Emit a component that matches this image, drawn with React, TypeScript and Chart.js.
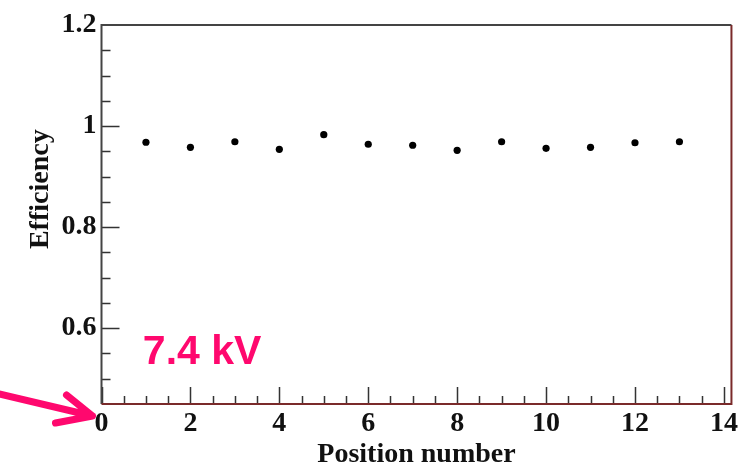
import React, { useEffect, useRef } from "react";
import { Chart, registerables } from "chart.js";

Chart.register(...registerables);

// ---- data ----
const positions = [1, 2, 3, 4, 5, 6, 7, 8, 9, 10, 11, 12, 13];
const efficiency = [0.968, 0.958, 0.969, 0.954, 0.983, 0.964, 0.962, 0.952, 0.969, 0.956, 0.958, 0.967, 0.969];
const xTickValues = [0, 2, 4, 6, 8, 10, 12, 14];
const yTickValues = [0.6, 0.8, 1, 1.2];
const xMinorStep = 0.5;
const yMinorStep = 0.05;
const xTitle = "Position number";
const yTitle = "Efficiency";
const voltageLabel = "7.4 kV";

const SERIF = "'Liberation Serif', 'Times New Roman', serif";
const PINK = "rgb(255, 8, 110)";

const decorations = {
  id: "rootStyleFrame",
  beforeDatasetsDraw(chart: any) {
    const { ctx, chartArea } = chart;
    const xs = chart.scales.x;
    const ys = chart.scales.y;
    const { left, right, top, bottom } = chartArea;
    ctx.save();
    // ticks
    ctx.strokeStyle = "#333";
    ctx.lineWidth = 1.5;
    ctx.beginPath();
    for (let v = 0; v <= 14.0001; v += xMinorStep) {
      const px = Math.round(xs.getPixelForValue(v)) + 0.5;
      const major = Math.abs(v / 2 - Math.round(v / 2)) < 1e-6;
      const len = major ? 17 : 8;
      ctx.moveTo(px, bottom);
      ctx.lineTo(px, bottom - len);
    }
    for (let v = 0.5; v <= 1.1501; v += yMinorStep) {
      const py = Math.round(ys.getPixelForValue(v)) + 0.5;
      const major = Math.abs(v / 0.2 - Math.round(v / 0.2)) < 1e-6;
      const len = major ? 18 : 9;
      ctx.moveTo(left, py);
      ctx.lineTo(left + len, py);
    }
    ctx.stroke();
    // frame: top + left dark, right + bottom reddish
    ctx.lineWidth = 2;
    ctx.strokeStyle = "#444";
    ctx.beginPath();
    ctx.moveTo(left, bottom);
    ctx.lineTo(left, top);
    ctx.lineTo(right, top);
    ctx.stroke();
    ctx.strokeStyle = "#7a2a2a";
    ctx.beginPath();
    ctx.moveTo(right, top);
    ctx.lineTo(right, bottom);
    ctx.lineTo(left, bottom);
    ctx.stroke();
    ctx.restore();
  },
  afterDraw(chart: any) {
    const { ctx, chartArea } = chart;
    const xs = chart.scales.x;
    const ys = chart.scales.y;
    ctx.save();
    // y axis title
    ctx.fillStyle = "#111";
    ctx.font = `bold 28px ${SERIF}`;
    ctx.textAlign = "center";
    ctx.textBaseline = "middle";
    ctx.translate(41, ys.getPixelForValue(0.875));
    ctx.rotate(-Math.PI / 2);
    ctx.fillText(yTitle, 0, 0);
    ctx.restore();

    ctx.save();
    // voltage label
    ctx.fillStyle = PINK;
    ctx.font = "bold 41px 'Liberation Sans', Arial, sans-serif";
    ctx.textAlign = "left";
    ctx.textBaseline = "alphabetic";
    ctx.fillText(voltageLabel, xs.getPixelForValue(0.93), ys.getPixelForValue(0.529));
    // arrow pointing to the "0" tick label
    const tipX = xs.getPixelForValue(0) - 9;
    const tipY = chartArea.bottom + 12;
    ctx.strokeStyle = PINK;
    ctx.lineWidth = 7;
    ctx.lineCap = "round";
    ctx.lineJoin = "round";
    ctx.beginPath();
    ctx.moveTo(-5, tipY - 23);
    ctx.lineTo(tipX, tipY);
    ctx.moveTo(tipX - 26, tipY - 21);
    ctx.lineTo(tipX, tipY);
    ctx.lineTo(tipX - 37, tipY + 7);
    ctx.stroke();
    ctx.restore();
  },
};

export default function App() {
  const canvasRef = useRef<HTMLCanvasElement | null>(null);

  useEffect(() => {
    const canvas = canvasRef.current;
    if (!canvas) return;
    const chart = new Chart(canvas, {
      type: "scatter",
      data: {
        datasets: [
          {
            label: yTitle,
            data: positions.map((x, i) => ({ x, y: efficiency[i] })),
            pointRadius: 3.6,
            pointBackgroundColor: "#000",
            pointBorderWidth: 0,
            showLine: false,
          },
        ],
      },
      options: {
        animation: false,
        responsive: true,
        maintainAspectRatio: false,
        layout: { padding: { top: 25, right: 9, left: 0, bottom: 0 } },
        plugins: {
          legend: { display: false },
          tooltip: { enabled: false },
        },
        scales: {
          x: {
            type: "linear",
            min: 0,
            max: 14.17,
            grid: { display: false, drawTicks: false },
            border: { display: false },
            afterBuildTicks: (scale: any) => {
              scale.ticks = xTickValues.map((value) => ({ value }));
            },
            afterFit: (scale: any) => {
              scale.height = 72;
            },
            ticks: {
              padding: 3,
              color: "#111",
              font: { family: SERIF, size: 28, weight: "bold" },
              maxRotation: 0,
              callback: (v: any) => String(v),
            },
            title: {
              display: true,
              text: xTitle,
              color: "#111",
              font: { family: SERIF, size: 28, weight: "bold" },
              padding: { top: 0, bottom: 4 },
            },
          },
          y: {
            type: "linear",
            min: 0.45,
            max: 1.2,
            grid: { display: false, drawTicks: false },
            border: { display: false },
            afterBuildTicks: (scale: any) => {
              scale.ticks = yTickValues.map((value) => ({ value }));
            },
            afterFit: (scale: any) => {
              scale.width = 101.5;
            },
            ticks: {
              padding: 5,
              color: "#111",
              font: { family: SERIF, size: 28, weight: "bold" },
              callback: (v: any) => String(v),
            },
          },
        },
      },
      plugins: [decorations],
    });
    return () => chart.destroy();
  }, []);

  return (
    <div style={{ position: "absolute", left: 0, top: 0, width: 741, height: 476, background: "#fff" }}>
      <canvas ref={canvasRef} />
    </div>
  );
}
